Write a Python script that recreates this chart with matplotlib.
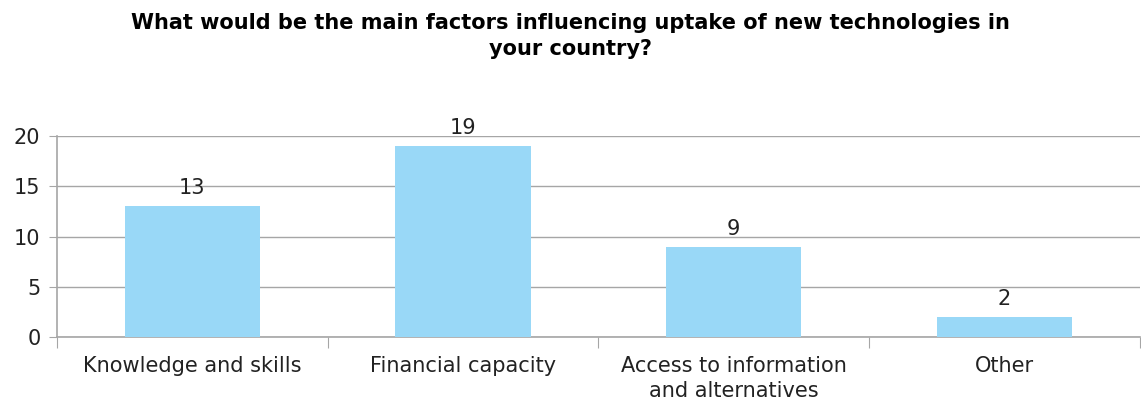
import matplotlib.pyplot as plt
import numpy as np

categories = ["Knowledge and skills", "Financial capacity",
              "Access to information\nand alternatives", "Other"]
counts = [13, 19, 9, 2]

title = "What would be the main factors influencing uptake of new technologies in\nyour country?"

fig = plt.figure(figsize=(11.41, 4.03), dpi=100)
ax = fig.add_axes([0.05, 0.1638, 0.949, 0.4987])

x = np.arange(len(categories))
bars = ax.bar(x, counts, width=0.5, color="#99d8f7", zorder=3)
for b, v in zip(bars, counts):
    ax.text(b.get_x() + b.get_width() / 2, v + 0.8, str(v),
            ha="center", va="bottom", fontsize=15, color="#222222")

ax.set_xlim(-0.5, len(categories) - 0.5)
ax.set_ylim(0, 20)
ax.set_yticks([0, 5, 10, 15, 20])
ax.yaxis.grid(True, color="#a6a6a6", linewidth=1, zorder=0)
ax.tick_params(axis="y", labelsize=15, length=6, color="#a6a6a6",
               labelcolor="#222222", pad=6)

# category labels in the middle, tick marks at the boundaries
ax.set_xticks(np.arange(len(categories) + 1) - 0.5)
ax.set_xticklabels([])
ax.tick_params(axis="x", length=8, color="#a6a6a6")
ax.set_xticks(x, minor=True)
ax.set_xticklabels(categories, minor=True, fontsize=15, color="#222222",
                   linespacing=1.3)
ax.tick_params(axis="x", which="minor", length=0, pad=14)

for s in ["top", "right"]:
    ax.spines[s].set_visible(False)
for s in ["left", "bottom"]:
    ax.spines[s].set_color("#a6a6a6")
    ax.spines[s].set_linewidth(1.2)

fig.text(0.5, 0.968, title, ha="center", va="top", fontsize=15,
         fontweight="bold", linespacing=1.4)

plt.savefig("out.png")
plt.close()
